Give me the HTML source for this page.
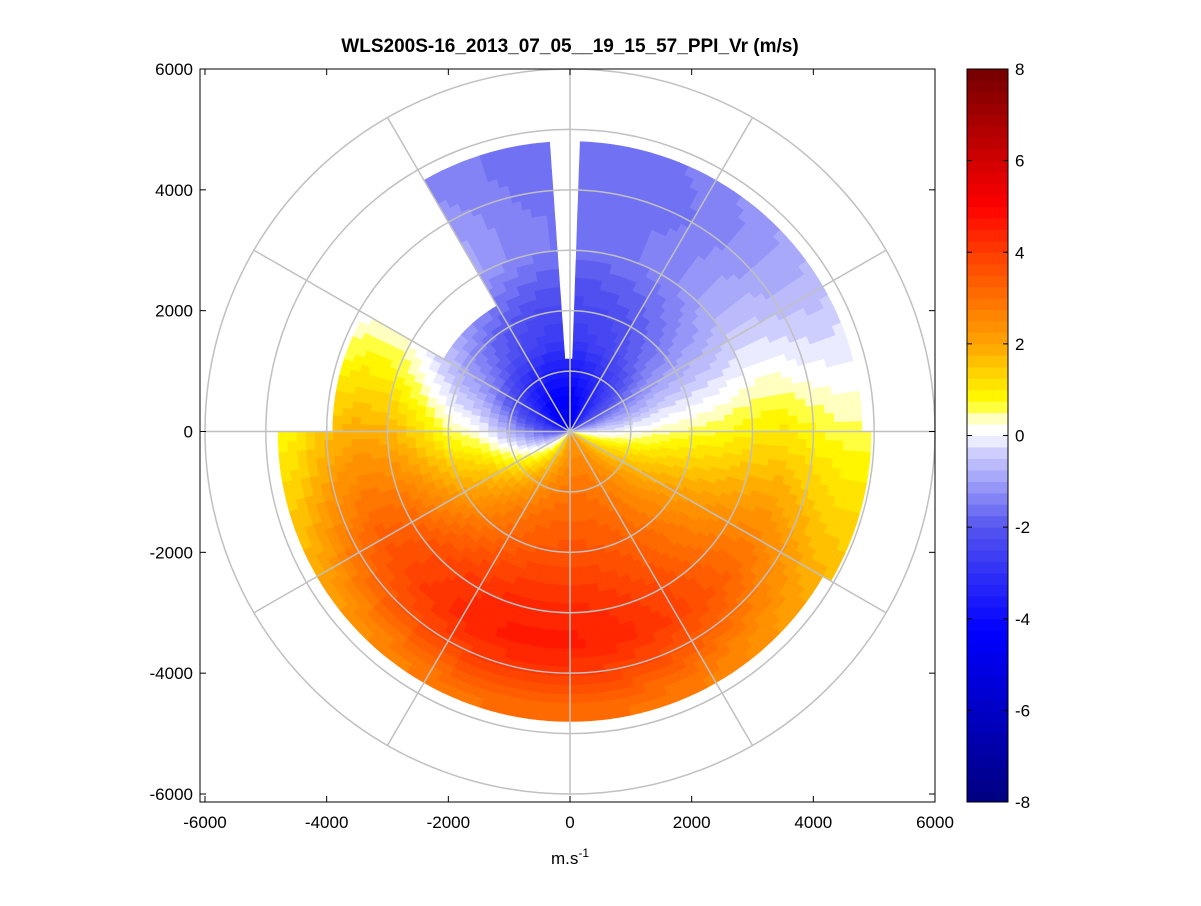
<!DOCTYPE html>
<html><head><meta charset="utf-8">
<style>
body{margin:0;background:#fff;}
svg text{font-family:"Liberation Sans",sans-serif;}
</style></head>
<body>
<svg id="chart" width="1201" height="901" xmlns="http://www.w3.org/2000/svg">
<rect width="1201" height="901" fill="#fff"/>
<text x="570" y="52" text-anchor="middle" font-size="19" font-weight="bold">WLS200S-16_2013_07_05__19_15_57_PPI_Vr (m/s)</text>
<g id="cells"></g>
<g id="grid"></g>
<g id="axes"></g>
<g id="cbar"></g>
<text x="570" y="864" text-anchor="middle" font-size="17">m.s<tspan dy="-7" font-size="12">-1</tspan></text>
</svg>
<script>
// ---- data: wind profile per range gate (VAD-like) ----
const profileRange = [300, 800, 1500, 2000, 2500, 3000, 3500, 4000, 4500, 5000];
const profileSpeed = [3.6, 3.4, 3.0, 3.0, 3.0, 3.0, 3.1, 2.9, 2.5, 2.2];
const profileDirTo = [165, 170, 178, 180, 185, 188, 188, 188, 185, 180];
const profileOffset = [-1.2, -0.6, 0.3, 0.6, 1.0, 1.4, 1.5, 1.2, 0.8, 0.6];
// max range of valid data per 30° sector (from north, clockwise)
const sectorStart = [0, 30, 60, 90, 120, 150, 180, 210, 240, 270, 300, 330];
const sectorMaxRange = [4800, 4700, 4700, 4900, 4800, 4800, 4800, 4800, 4700, 3800, 2300, 4700];
// blank wedge near north
const gapAz = [356, 362];
const gapMinRange = 1200;
const xTicks = [-6000, -4000, -2000, 0, 2000, 4000, 6000];
const yTicks = [-6000, -4000, -2000, 0, 2000, 4000, 6000];
const cbTicks = [-8, -6, -4, -2, 0, 2, 4, 6, 8];
const ringRanges = [1000, 2000, 3000, 4000, 5000, 6000];

const NS = "http://www.w3.org/2000/svg";
const cx = 570, cy = 431.5, sx = 365/6000, sy = 362.5/6000;
const X = v => cx + v*sx, Y = v => cy - v*sy;
function pt(r, az){const a=az*Math.PI/180;return [X(r*Math.sin(a)), Y(r*Math.cos(a))];}
function mk(tag, attrs, parent){const e=document.createElementNS(NS,tag);for(const k in attrs)e.setAttribute(k,attrs[k]);parent.appendChild(e);return e;}

const cstops = [[-8,[0,0,128]],[-4.3,[0,0,255]],[-2,[85,85,240]],[-0.25,[215,215,255]],[0,[255,255,255]],[0.25,[255,255,255]],[0.5,[255,255,128]],[0.75,[255,255,0]],[2,[255,165,0]],[4,[255,60,0]],[5,[255,0,0]],[8,[115,0,0]]];
function color(v){
  v=Math.max(-8,Math.min(8,v));
  v=Math.floor(v/0.25)*0.25+0.125;
  for(let i=0;i<cstops.length-1;i++){const [a,ca]=cstops[i],[b,cb]=cstops[i+1];
    if(v>=a&&v<=b){const t=(v-a)/(b-a);return 'rgb('+ca.map((c,j)=>Math.round(c+(cb[j]-c)*t)).join(',')+')';}}
  return '#fff';
}
function interp(arr, r){
  if(r<=profileRange[0])return arr[0];
  for(let i=0;i<profileRange.length-1;i++){if(r<=profileRange[i+1]){const t=(r-profileRange[i])/(profileRange[i+1]-profileRange[i]);return arr[i]+(arr[i+1]-arr[i])*t;}}
  return arr[arr.length-1];
}
const cells=document.getElementById('cells');
const dAz=2, dR=150;
for(let az=0; az<360; az+=dAz){
  const maxR = sectorMaxRange[Math.floor(az/30)];
  for(let r=0; r<maxR; r+=dR){
    const rm=r+dR/2;
    const azw = az<gapAz[0] ? az+360 : az;
    if((az>=gapAz[0]||az+360<gapAz[1])&&r>=gapMinRange)continue;
    const S=interp(profileSpeed,rm), D=interp(profileDirTo,rm), O=interp(profileOffset,rm);
    const v=S*Math.cos((az+dAz/2-D)*Math.PI/180)+O;
    const p=[pt(r,az),pt(r,az+dAz),pt(r+dR,az+dAz),pt(r+dR,az)];
    const el=mk('path',{d:'M'+p.map(q=>q[0].toFixed(1)+','+q[1].toFixed(1)).join('L')+'Z',fill:color(v),stroke:color(v),'stroke-width':0.6},cells);
    
    
  }
}
const grid=document.getElementById('grid');
ringRanges.forEach(r=>{
  const e=mk('ellipse',{cx:cx,cy:cy,rx:r*sx,ry:r*sy,fill:'none',stroke:'#c0c0c0','stroke-width':1.5},grid);
  
  
});
for(let a=0;a<360;a+=30){
  const p=pt(6000,a);
  const e=mk('line',{x1:cx,y1:cy,x2:p[0],y2:p[1],stroke:'#c0c0c0','stroke-width':1.5},grid);
  
  
}
const axes=document.getElementById('axes');
const L=200,R=935,T=69,B=802;
mk('rect',{x:L,y:T,width:R-L,height:B-T,fill:'none',stroke:'#000','stroke-width':1},axes);
xTicks.forEach(v=>{
  mk('line',{x1:X(v),y1:B,x2:X(v),y2:B-6,stroke:'#000'},axes);
  mk('line',{x1:X(v),y1:T,x2:X(v),y2:T+6,stroke:'#000'},axes);
  const t=mk('text',{x:X(v),y:B+26,'text-anchor':'middle','font-size':17},axes);t.textContent=v;
  
  
});
yTicks.forEach(v=>{
  mk('line',{x1:L,y1:Y(v),x2:L+6,y2:Y(v),stroke:'#000'},axes);
  mk('line',{x1:R,y1:Y(v),x2:R-6,y2:Y(v),stroke:'#000'},axes);
  const t=mk('text',{x:L-7,y:Y(v)+6,'text-anchor':'end','font-size':17},axes);t.textContent=v;
  
  
});
const cb=document.getElementById('cbar');
const cbL=967,cbR=1008,cbT=69,cbB=802;
const CY=v=>cbB-(v+8)/16*(cbB-cbT);
for(let v=-8;v<8;v+=0.25){
  const e=mk('rect',{x:cbL,y:CY(v+0.25),width:cbR-cbL,height:CY(v)-CY(v+0.25)+0.5,fill:color(v+0.1)},cb);
  
  
}
mk('rect',{x:cbL,y:cbT,width:cbR-cbL,height:cbB-cbT,fill:'none',stroke:'#000'},cb);
cbTicks.forEach(v=>{
  mk('line',{x1:cbL,y1:CY(v),x2:cbL+5,y2:CY(v),stroke:'#000'},cb);
  mk('line',{x1:cbR,y1:CY(v),x2:cbR-5,y2:CY(v),stroke:'#000'},cb);
  const t=mk('text',{x:cbR+7,y:CY(v)+6,'font-size':17},cb);t.textContent=v;
  
  
});
</script>
</body></html>
